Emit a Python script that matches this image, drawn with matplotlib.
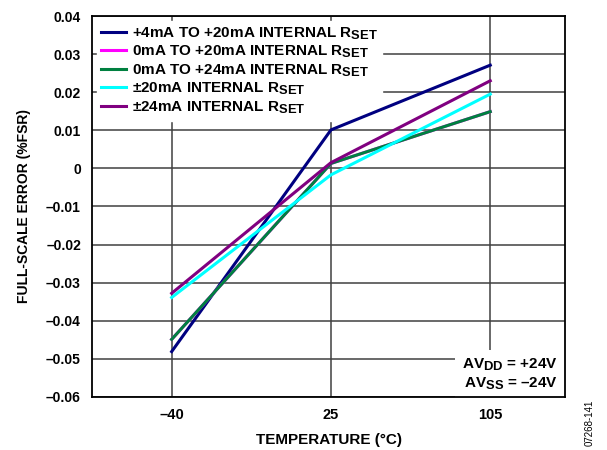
import numpy as np
import matplotlib
matplotlib.use('Agg')
import matplotlib.pyplot as plt
import matplotlib._mathtext as mt

plt.rcParams['font.family'] = ['Liberation Sans', 'DejaVu Sans']
plt.rcParams['mathtext.fontset'] = 'custom'
plt.rcParams['mathtext.rm'] = 'Liberation Sans:bold'
plt.rcParams['mathtext.bf'] = 'Liberation Sans:bold'
# subscripts in the reference are nearly full size
mt.SHRINK_FACTOR = 0.85

# Data
temps = ['\u201340', '25', '105']
err_4_20 = [-0.0481, 0.0101, 0.0271]
err_0_20 = [-0.0449, 0.0013, 0.0149]   # hidden under the other traces
err_0_24 = [-0.0449, 0.0013, 0.0149]
err_pm20 = [-0.0339, -0.0017, 0.0195]
err_pm24 = [-0.0328, 0.0015, 0.0230]

labels = ['+4mA TO +20mA INTERNAL R$_{\\mathbf{SET}}$',
          '0mA TO +20mA INTERNAL R$_{\\mathbf{SET}}$',
          '0mA TO +24mA INTERNAL R$_{\\mathbf{SET}}$',
          '\u00b120mA INTERNAL R$_{\\mathbf{SET}}$',
          '\u00b124mA INTERNAL R$_{\\mathbf{SET}}$']
colors = ['#000080', '#ff00ff', '#008040', '#00ffff', '#800080']
series = [err_4_20, err_0_20, err_0_24, err_pm20, err_pm24]

yticks = np.arange(-0.06, 0.041, 0.01)
ylabels = ['\u20130.06', '\u20130.05', '\u20130.04', '\u20130.03', '\u20130.02',
           '\u20130.01', '0', '0.01', '0.02', '0.03', '0.04']

fig = plt.figure(figsize=(6.07, 4.5), dpi=100)
ax = fig.add_axes([0.1516, 0.118, 0.7794, 0.8464])

x = np.arange(len(temps))
for vals, c, lab in zip(series, colors, labels):
    ax.plot(x, vals, color=c, lw=2.2, label=lab, zorder=3)

ax.set_xlim(-0.5, 2.47)
ax.set_ylim(-0.06, 0.04)
ax.set_xticks(x)
ax.set_xticklabels(temps, fontsize=10.5, fontweight='bold')
ax.set_yticks(yticks)
ax.set_yticklabels(ylabels, fontsize=10, fontweight='bold')
ax.tick_params(length=0, pad=8)
ax.grid(True, color='#404040', lw=1.1, zorder=1)
for s in ax.spines.values():
    s.set_linewidth(1.3)
    s.set_zorder(6)

ax.set_xlabel('TEMPERATURE (\u00b0C)', fontsize=11, fontweight='bold', labelpad=8)
ax.set_ylabel('FULL-SCALE ERROR (%FSR)', fontsize=10, fontweight='bold', labelpad=11)

leg = ax.legend(loc='upper left', bbox_to_anchor=(0.0, 1.0), frameon=True,
                fancybox=False, edgecolor='white', facecolor='white', framealpha=1,
                prop={'weight': 'bold', 'size': 11}, handlelength=1.6,
                handletextpad=0.4, labelspacing=0.12, borderpad=0.3,
                borderaxespad=0.3)
leg.set_zorder(2)

ax.text(0.985, 0.012, 'AV$_{\\mathbf{DD}}$ = +24V\nAV$_{\\mathbf{SS}}$ = \u201324V',
        transform=ax.transAxes, ha='right', va='bottom', fontsize=11,
        fontweight='bold', linespacing=1.2, zorder=5,
        bbox=dict(facecolor='white', edgecolor='none', pad=5))

fig.text(0.972, 0.06, '07268-141', rotation=90, fontsize=7, ha='center', va='center')

fig.savefig('out.png', dpi=100)
